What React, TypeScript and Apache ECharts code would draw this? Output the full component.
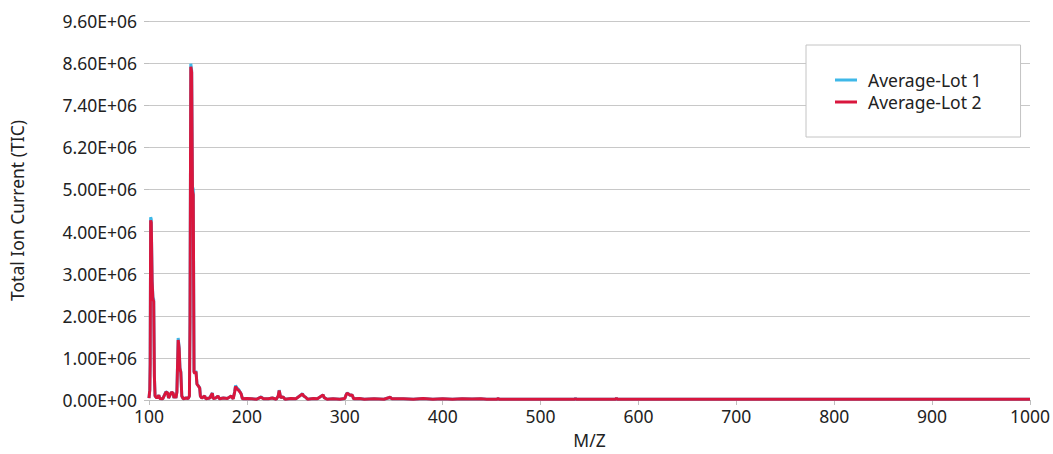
import React, { useEffect, useRef } from "react";
import * as echarts from "echarts";

// Tick labels on the y axis (as printed on the reference)
const yTickLabels = [
  "0.00E+00", "1.00E+06", "2.00E+06", "3.00E+06", "4.00E+06",
  "5.00E+06", "6.20E+06", "7.40E+06", "8.60E+06", "9.60E+06",
];
const Y_MAX = 9.6; // in units of 1E+06
const X_MIN = 100;
const X_MAX = 1000;

// M/Z sample positions
const mz = [
  100, 100.8, 101.2, 101.7, 102.3, 103.2, 104.0, 104.8, 105.5, 106.2,
  108, 110, 111, 114, 117.3, 119, 120, 123, 124.7, 125.5,
  126.4, 127.5, 128.5, 129.8, 130.8, 131.6, 132.5, 133.5, 135, 138,
  140, 141.3, 141.9, 142.7, 143.6, 144.4, 145.2, 146, 146.7, 148,
  149, 150.5, 151.8, 152.5, 154, 156.9, 158, 162, 164.7, 165.5,
  168, 170.4, 172, 176, 180, 184, 186, 187.5, 188.4, 190,
  191.8, 193, 194.2, 195.5, 200, 205, 210, 214.5, 217, 222,
  226, 230, 232, 233, 234.5, 237, 239, 245, 250, 256.8,
  258, 260, 262, 268, 272, 277.8, 279, 282, 288, 295,
  300, 301.5, 302.5, 304, 305.5, 307.6, 309, 315, 320, 330,
  340, 346.5, 348, 360, 370, 380, 390, 400, 410, 420,
  430, 439, 445, 455.8, 456.6, 457.4, 500, 535, 535.7, 536.4,
  576.8, 577.5, 578.2, 650, 700, 800, 900, 1000,
];

// Average-Lot 1 intensities (x 1E+06)
const lot1 = [
  0.05, 0.26, 0.95, 4.63, 4.58, 3.05, 2.6, 2.55, 0.62, 0.1,
  0.05, 0.12, 0.04, 0.03, 0.21, 0.18, 0.05, 0.2, 0.17, 0.05,
  0.12, 0.05, 0.21, 1.57, 1.33, 0.82, 0.72, 0.1, 0.03, 0.05,
  0.04, 0.1, 2.1, 8.52, 8.35, 5.4, 5.34, 0.72, 0.7, 0.74,
  0.41, 0.36, 0.31, 0.1, 0.05, 0.1, 0.03, 0.05, 0.18, 0.04,
  0.05, 0.1, 0.03, 0.05, 0.04, 0.1, 0.03, 0.21, 0.37, 0.3,
  0.26, 0.2, 0.15, 0.03, 0.04, 0.03, 0.02, 0.08, 0.03, 0.03,
  0.05, 0.02, 0.1, 0.25, 0.06, 0.08, 0.02, 0.04, 0.03, 0.16,
  0.1, 0.07, 0.02, 0.04, 0.03, 0.13, 0.06, 0.02, 0.03, 0.02,
  0.04, 0.14, 0.18, 0.15, 0.12, 0.13, 0.03, 0.04, 0.02, 0.03,
  0.02, 0.07, 0.03, 0.03, 0.02, 0.035, 0.02, 0.03, 0.02, 0.03,
  0.025, 0.03, 0.02, 0.02, 0.045, 0.02, 0.02, 0.02, 0.045, 0.02,
  0.02, 0.055, 0.02, 0.02, 0.02, 0.02, 0.02, 0.02,
];

// Average-Lot 2 intensities (x 1E+06)
const lot2 = [
  0.05, 0.25, 0.9, 4.55, 4.5, 3.0, 2.55, 2.5, 0.6, 0.1,
  0.05, 0.12, 0.04, 0.03, 0.2, 0.18, 0.05, 0.2, 0.17, 0.05,
  0.12, 0.05, 0.2, 1.52, 1.3, 0.8, 0.7, 0.1, 0.03, 0.05,
  0.04, 0.1, 2.0, 8.44, 8.3, 5.3, 5.2, 0.7, 0.68, 0.72,
  0.4, 0.35, 0.3, 0.1, 0.05, 0.1, 0.03, 0.05, 0.17, 0.04,
  0.05, 0.1, 0.03, 0.05, 0.04, 0.1, 0.03, 0.2, 0.34, 0.28,
  0.24, 0.2, 0.15, 0.03, 0.04, 0.03, 0.02, 0.07, 0.03, 0.03,
  0.05, 0.02, 0.1, 0.24, 0.06, 0.08, 0.02, 0.04, 0.03, 0.15,
  0.1, 0.07, 0.02, 0.04, 0.03, 0.13, 0.06, 0.02, 0.03, 0.02,
  0.04, 0.14, 0.17, 0.15, 0.12, 0.13, 0.03, 0.04, 0.02, 0.03,
  0.02, 0.07, 0.03, 0.03, 0.02, 0.035, 0.02, 0.03, 0.02, 0.03,
  0.025, 0.03, 0.02, 0.02, 0.04, 0.02, 0.02, 0.02, 0.04, 0.02,
  0.02, 0.05, 0.02, 0.02, 0.02, 0.02, 0.02, 0.02,
];

const FONT = "'Noto Sans', sans-serif";
const FS = 17.5;

export default function App() {
  const ref = useRef<HTMLDivElement>(null);

  useEffect(() => {
    if (!ref.current) return;
    const chart = echarts.init(ref.current, null, { renderer: "svg" });
    const yInterval = Y_MAX / (yTickLabels.length - 1);
    chart.setOption({
      animation: false,
      backgroundColor: "#ffffff",
      grid: { left: 149, right: 18, top: 21, bottom: 54, containLabel: false },
      legend: {
        orient: "vertical",
        left: 806,
        top: 45,
        width: 150,
        padding: [26, 39, 26, 29],
        borderColor: "#c4c4c4",
        borderWidth: 1,
        backgroundColor: "#ffffff",
        itemWidth: 22,
        itemHeight: 3,
        itemGap: 4,
        icon: "rect",
        textStyle: { fontFamily: FONT, fontSize: FS, color: "#222222", padding: [0, 0, 0, 6] },
        data: ["Average-Lot 1", "Average-Lot 2"],
      },
      xAxis: {
        type: "value",
        min: X_MIN,
        max: X_MAX,
        interval: 100,
        name: "M/Z",
        nameLocation: "middle",
        nameGap: 31,
        nameTextStyle: { fontFamily: FONT, fontSize: FS, color: "#222222" },
        axisLine: { show: true, lineStyle: { color: "#bfbfbf", width: 1 } },
        axisTick: { show: true, length: 5, lineStyle: { color: "#bfbfbf" } },
        axisLabel: {
          fontFamily: FONT,
          fontSize: FS,
          color: "#222222",
          margin: 7,
          formatter: (v: number) => String(v),
        },
        splitLine: { show: false },
      },
      yAxis: {
        type: "value",
        min: 0,
        max: Y_MAX,
        interval: yInterval,
        name: "Total Ion Current (TIC)",
        nameLocation: "middle",
        nameGap: 123,
        nameRotate: 90,
        nameTextStyle: { fontFamily: FONT, fontSize: FS, color: "#222222" },
        axisLine: { show: false },
        axisTick: { show: true, length: 5, lineStyle: { color: "#bfbfbf" } },
        axisLabel: {
          fontFamily: FONT,
          fontSize: FS,
          color: "#222222",
          margin: 12,
          formatter: (v: number) => yTickLabels[Math.round(v / yInterval)] ?? "",
        },
        splitLine: { show: true, lineStyle: { color: "#c8c8c8", width: 1 } },
      },
      series: [
        {
          name: "Average-Lot 1",
          type: "line",
          data: mz.map((x, i) => [x, lot1[i]]),
          showSymbol: false,
          symbol: "none",
          lineStyle: { color: "#3fb8e8", width: 3 },
          itemStyle: { color: "#3fb8e8" },
          z: 2,
        },
        {
          name: "Average-Lot 2",
          type: "line",
          data: mz.map((x, i) => [x, lot2[i]]),
          showSymbol: false,
          symbol: "none",
          lineStyle: { color: "#d9163d", width: 3 },
          itemStyle: { color: "#d9163d" },
          z: 3,
        },
      ],
    });
    return () => chart.dispose();
  }, []);

  return <div ref={ref} style={{ width: 1053, height: 454, position: "absolute", left: 0, top: 0 }} />;
}
